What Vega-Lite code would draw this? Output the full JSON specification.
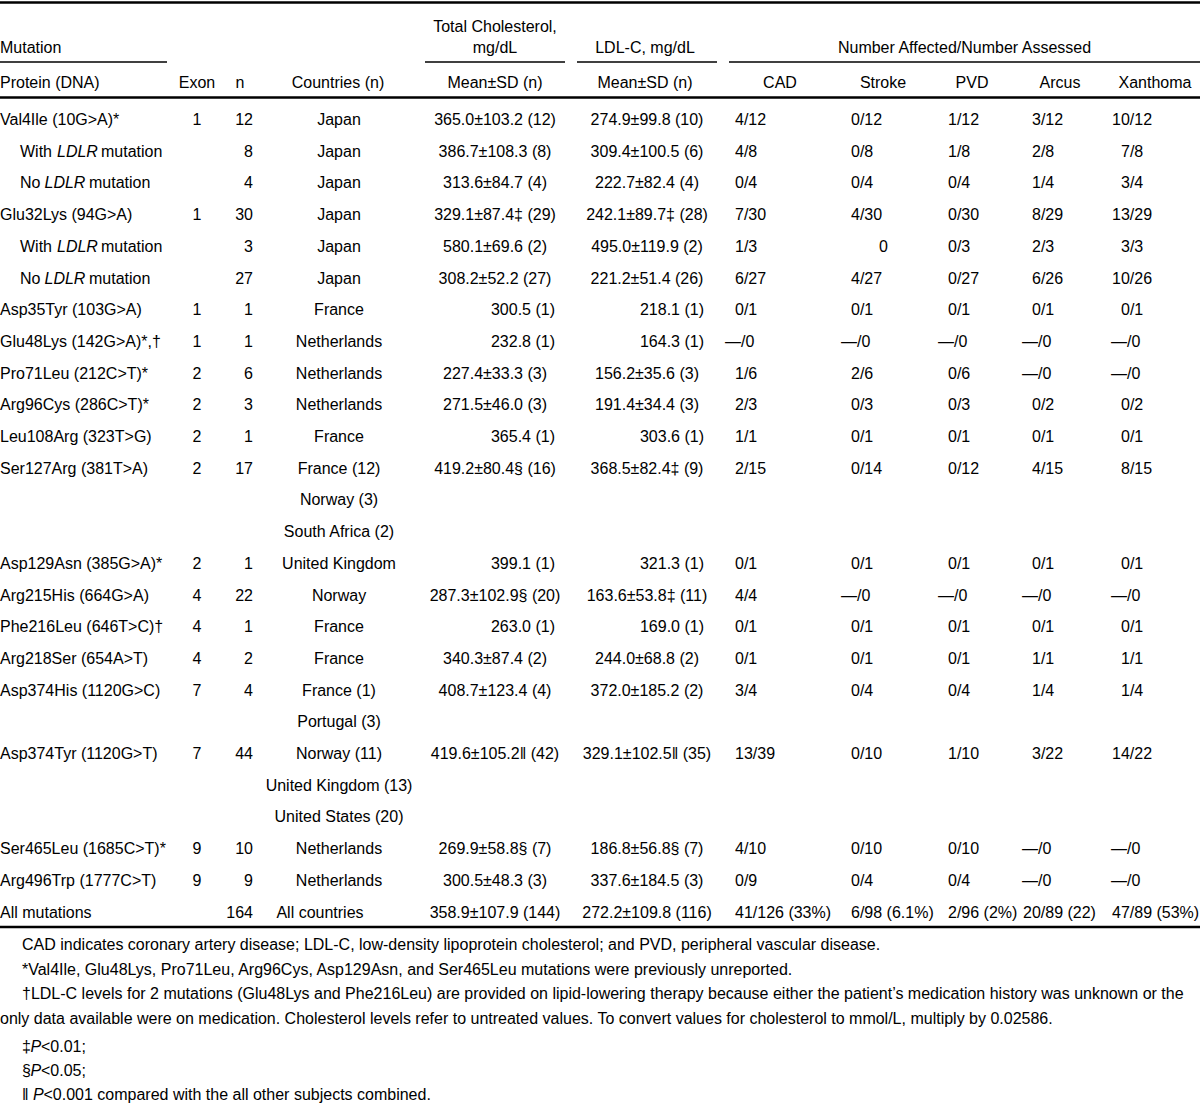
{
  "$schema": "https://vega.github.io/schema/vega-lite/v6.json",
  "width": 1200,
  "height": 1104,
  "padding": 0,
  "autosize": {"type": "none"},
  "background": "white",
  "config": {
    "view": {"stroke": null},
    "text": {"font": "Liberation Sans, Arial, Helvetica, sans-serif", "fontSize": 16, "baseline": "alphabetic", "fill": "#000"}
  },
  "datasets": {
    "head": [
      {"r": -2, "c": 0, "t": "Mutation"},
      {"r": -1, "c": 0, "t": "Protein (DNA)"},
      {"r": -3, "c": 4, "t": "Total Cholesterol,"},
      {"r": -2, "c": 4, "t": "mg/dL"},
      {"r": -2, "c": 5, "t": "LDL-C, mg/dL"},
      {"r": -2, "c": 11, "t": "Number Affected/Number Assessed"},
      {"r": -1, "c": 1, "t": "Exon"},
      {"r": -1, "c": 2, "t": "n"},
      {"r": -1, "c": 3, "t": "Countries (n)"},
      {"r": -1, "c": 4, "t": "Mean±SD (n)"},
      {"r": -1, "c": 5, "t": "Mean±SD (n)"},
      {"r": -1, "c": 6, "t": "CAD"},
      {"r": -1, "c": 7, "t": "Stroke"},
      {"r": -1, "c": 8, "t": "PVD"},
      {"r": -1, "c": 9, "t": "Arcus"},
      {"r": -1, "c": 10, "t": "Xanthoma"}
    ],
    "sub": [
      {"r": 1, "pre": "With"},
      {"r": 2, "pre": "No"},
      {"r": 4, "pre": "With"},
      {"r": 5, "pre": "No"}
    ],
    "body": [
      {"r": 0, "c": 0, "t": "Val4Ile (10G>A)*"}, {"r": 0, "c": 1, "t": "1"}, {"r": 0, "c": 2, "t": "12"}, {"r": 0, "c": 3, "t": "Japan"}, {"r": 0, "c": 4, "t": "365.0±103.2 (12)"}, {"r": 0, "c": 5, "t": "274.9±99.8 (10)"}, {"r": 0, "c": 6, "t": "4/12"}, {"r": 0, "c": 7, "t": "0/12"}, {"r": 0, "c": 8, "t": "1/12"}, {"r": 0, "c": 9, "t": "3/12"}, {"r": 0, "c": 10, "t": "10/12"},
      {"r": 1, "c": 2, "t": "8"}, {"r": 1, "c": 3, "t": "Japan"}, {"r": 1, "c": 4, "t": "386.7±108.3 (8)"}, {"r": 1, "c": 5, "t": "309.4±100.5 (6)"}, {"r": 1, "c": 6, "t": "4/8"}, {"r": 1, "c": 7, "t": "0/8"}, {"r": 1, "c": 8, "t": "1/8"}, {"r": 1, "c": 9, "t": "2/8"}, {"r": 1, "c": 10, "t": "7/8"},
      {"r": 2, "c": 2, "t": "4"}, {"r": 2, "c": 3, "t": "Japan"}, {"r": 2, "c": 4, "t": "313.6±84.7 (4)"}, {"r": 2, "c": 5, "t": "222.7±82.4 (4)"}, {"r": 2, "c": 6, "t": "0/4"}, {"r": 2, "c": 7, "t": "0/4"}, {"r": 2, "c": 8, "t": "0/4"}, {"r": 2, "c": 9, "t": "1/4"}, {"r": 2, "c": 10, "t": "3/4"},
      {"r": 3, "c": 0, "t": "Glu32Lys (94G>A)"}, {"r": 3, "c": 1, "t": "1"}, {"r": 3, "c": 2, "t": "30"}, {"r": 3, "c": 3, "t": "Japan"}, {"r": 3, "c": 4, "t": "329.1±87.4‡ (29)"}, {"r": 3, "c": 5, "t": "242.1±89.7‡ (28)"}, {"r": 3, "c": 6, "t": "7/30"}, {"r": 3, "c": 7, "t": "4/30"}, {"r": 3, "c": 8, "t": "0/30"}, {"r": 3, "c": 9, "t": "8/29"}, {"r": 3, "c": 10, "t": "13/29"},
      {"r": 4, "c": 2, "t": "3"}, {"r": 4, "c": 3, "t": "Japan"}, {"r": 4, "c": 4, "t": "580.1±69.6 (2)"}, {"r": 4, "c": 5, "t": "495.0±119.9 (2)"}, {"r": 4, "c": 6, "t": "1/3"}, {"r": 4, "c": 7, "t": "0"}, {"r": 4, "c": 8, "t": "0/3"}, {"r": 4, "c": 9, "t": "2/3"}, {"r": 4, "c": 10, "t": "3/3"},
      {"r": 5, "c": 2, "t": "27"}, {"r": 5, "c": 3, "t": "Japan"}, {"r": 5, "c": 4, "t": "308.2±52.2 (27)"}, {"r": 5, "c": 5, "t": "221.2±51.4 (26)"}, {"r": 5, "c": 6, "t": "6/27"}, {"r": 5, "c": 7, "t": "4/27"}, {"r": 5, "c": 8, "t": "0/27"}, {"r": 5, "c": 9, "t": "6/26"}, {"r": 5, "c": 10, "t": "10/26"},
      {"r": 6, "c": 0, "t": "Asp35Tyr (103G>A)"}, {"r": 6, "c": 1, "t": "1"}, {"r": 6, "c": 2, "t": "1"}, {"r": 6, "c": 3, "t": "France"}, {"r": 6, "c": 4, "t": "300.5 (1)"}, {"r": 6, "c": 5, "t": "218.1 (1)"}, {"r": 6, "c": 6, "t": "0/1"}, {"r": 6, "c": 7, "t": "0/1"}, {"r": 6, "c": 8, "t": "0/1"}, {"r": 6, "c": 9, "t": "0/1"}, {"r": 6, "c": 10, "t": "0/1"},
      {"r": 7, "c": 0, "t": "Glu48Lys (142G>A)*,†"}, {"r": 7, "c": 1, "t": "1"}, {"r": 7, "c": 2, "t": "1"}, {"r": 7, "c": 3, "t": "Netherlands"}, {"r": 7, "c": 4, "t": "232.8 (1)"}, {"r": 7, "c": 5, "t": "164.3 (1)"}, {"r": 7, "c": 6, "t": "—/0"}, {"r": 7, "c": 7, "t": "—/0"}, {"r": 7, "c": 8, "t": "—/0"}, {"r": 7, "c": 9, "t": "—/0"}, {"r": 7, "c": 10, "t": "—/0"},
      {"r": 8, "c": 0, "t": "Pro71Leu (212C>T)*"}, {"r": 8, "c": 1, "t": "2"}, {"r": 8, "c": 2, "t": "6"}, {"r": 8, "c": 3, "t": "Netherlands"}, {"r": 8, "c": 4, "t": "227.4±33.3 (3)"}, {"r": 8, "c": 5, "t": "156.2±35.6 (3)"}, {"r": 8, "c": 6, "t": "1/6"}, {"r": 8, "c": 7, "t": "2/6"}, {"r": 8, "c": 8, "t": "0/6"}, {"r": 8, "c": 9, "t": "—/0"}, {"r": 8, "c": 10, "t": "—/0"},
      {"r": 9, "c": 0, "t": "Arg96Cys (286C>T)*"}, {"r": 9, "c": 1, "t": "2"}, {"r": 9, "c": 2, "t": "3"}, {"r": 9, "c": 3, "t": "Netherlands"}, {"r": 9, "c": 4, "t": "271.5±46.0 (3)"}, {"r": 9, "c": 5, "t": "191.4±34.4 (3)"}, {"r": 9, "c": 6, "t": "2/3"}, {"r": 9, "c": 7, "t": "0/3"}, {"r": 9, "c": 8, "t": "0/3"}, {"r": 9, "c": 9, "t": "0/2"}, {"r": 9, "c": 10, "t": "0/2"},
      {"r": 10, "c": 0, "t": "Leu108Arg (323T>G)"}, {"r": 10, "c": 1, "t": "2"}, {"r": 10, "c": 2, "t": "1"}, {"r": 10, "c": 3, "t": "France"}, {"r": 10, "c": 4, "t": "365.4 (1)"}, {"r": 10, "c": 5, "t": "303.6 (1)"}, {"r": 10, "c": 6, "t": "1/1"}, {"r": 10, "c": 7, "t": "0/1"}, {"r": 10, "c": 8, "t": "0/1"}, {"r": 10, "c": 9, "t": "0/1"}, {"r": 10, "c": 10, "t": "0/1"},
      {"r": 11, "c": 0, "t": "Ser127Arg (381T>A)"}, {"r": 11, "c": 1, "t": "2"}, {"r": 11, "c": 2, "t": "17"}, {"r": 11, "c": 3, "t": "France (12)"}, {"r": 11, "c": 4, "t": "419.2±80.4§ (16)"}, {"r": 11, "c": 5, "t": "368.5±82.4‡ (9)"}, {"r": 11, "c": 6, "t": "2/15"}, {"r": 11, "c": 7, "t": "0/14"}, {"r": 11, "c": 8, "t": "0/12"}, {"r": 11, "c": 9, "t": "4/15"}, {"r": 11, "c": 10, "t": "8/15"},
      {"r": 12, "c": 3, "t": "Norway (3)"},
      {"r": 13, "c": 3, "t": "South Africa (2)"},
      {"r": 14, "c": 0, "t": "Asp129Asn (385G>A)*"}, {"r": 14, "c": 1, "t": "2"}, {"r": 14, "c": 2, "t": "1"}, {"r": 14, "c": 3, "t": "United Kingdom"}, {"r": 14, "c": 4, "t": "399.1 (1)"}, {"r": 14, "c": 5, "t": "321.3 (1)"}, {"r": 14, "c": 6, "t": "0/1"}, {"r": 14, "c": 7, "t": "0/1"}, {"r": 14, "c": 8, "t": "0/1"}, {"r": 14, "c": 9, "t": "0/1"}, {"r": 14, "c": 10, "t": "0/1"},
      {"r": 15, "c": 0, "t": "Arg215His (664G>A)"}, {"r": 15, "c": 1, "t": "4"}, {"r": 15, "c": 2, "t": "22"}, {"r": 15, "c": 3, "t": "Norway"}, {"r": 15, "c": 4, "t": "287.3±102.9§ (20)"}, {"r": 15, "c": 5, "t": "163.6±53.8‡ (11)"}, {"r": 15, "c": 6, "t": "4/4"}, {"r": 15, "c": 7, "t": "—/0"}, {"r": 15, "c": 8, "t": "—/0"}, {"r": 15, "c": 9, "t": "—/0"}, {"r": 15, "c": 10, "t": "—/0"},
      {"r": 16, "c": 0, "t": "Phe216Leu (646T>C)†"}, {"r": 16, "c": 1, "t": "4"}, {"r": 16, "c": 2, "t": "1"}, {"r": 16, "c": 3, "t": "France"}, {"r": 16, "c": 4, "t": "263.0 (1)"}, {"r": 16, "c": 5, "t": "169.0 (1)"}, {"r": 16, "c": 6, "t": "0/1"}, {"r": 16, "c": 7, "t": "0/1"}, {"r": 16, "c": 8, "t": "0/1"}, {"r": 16, "c": 9, "t": "0/1"}, {"r": 16, "c": 10, "t": "0/1"},
      {"r": 17, "c": 0, "t": "Arg218Ser (654A>T)"}, {"r": 17, "c": 1, "t": "4"}, {"r": 17, "c": 2, "t": "2"}, {"r": 17, "c": 3, "t": "France"}, {"r": 17, "c": 4, "t": "340.3±87.4 (2)"}, {"r": 17, "c": 5, "t": "244.0±68.8 (2)"}, {"r": 17, "c": 6, "t": "0/1"}, {"r": 17, "c": 7, "t": "0/1"}, {"r": 17, "c": 8, "t": "0/1"}, {"r": 17, "c": 9, "t": "1/1"}, {"r": 17, "c": 10, "t": "1/1"},
      {"r": 18, "c": 0, "t": "Asp374His (1120G>C)"}, {"r": 18, "c": 1, "t": "7"}, {"r": 18, "c": 2, "t": "4"}, {"r": 18, "c": 3, "t": "France (1)"}, {"r": 18, "c": 4, "t": "408.7±123.4 (4)"}, {"r": 18, "c": 5, "t": "372.0±185.2 (2)"}, {"r": 18, "c": 6, "t": "3/4"}, {"r": 18, "c": 7, "t": "0/4"}, {"r": 18, "c": 8, "t": "0/4"}, {"r": 18, "c": 9, "t": "1/4"}, {"r": 18, "c": 10, "t": "1/4"},
      {"r": 19, "c": 3, "t": "Portugal (3)"},
      {"r": 20, "c": 0, "t": "Asp374Tyr (1120G>T)"}, {"r": 20, "c": 1, "t": "7"}, {"r": 20, "c": 2, "t": "44"}, {"r": 20, "c": 3, "t": "Norway (11)"}, {"r": 20, "c": 4, "t": "419.6±105.2‖ (42)"}, {"r": 20, "c": 5, "t": "329.1±102.5‖ (35)"}, {"r": 20, "c": 6, "t": "13/39"}, {"r": 20, "c": 7, "t": "0/10"}, {"r": 20, "c": 8, "t": "1/10"}, {"r": 20, "c": 9, "t": "3/22"}, {"r": 20, "c": 10, "t": "14/22"},
      {"r": 21, "c": 3, "t": "United Kingdom (13)"},
      {"r": 22, "c": 3, "t": "United States (20)"},
      {"r": 23, "c": 0, "t": "Ser465Leu (1685C>T)*"}, {"r": 23, "c": 1, "t": "9"}, {"r": 23, "c": 2, "t": "10"}, {"r": 23, "c": 3, "t": "Netherlands"}, {"r": 23, "c": 4, "t": "269.9±58.8§ (7)"}, {"r": 23, "c": 5, "t": "186.8±56.8§ (7)"}, {"r": 23, "c": 6, "t": "4/10"}, {"r": 23, "c": 7, "t": "0/10"}, {"r": 23, "c": 8, "t": "0/10"}, {"r": 23, "c": 9, "t": "—/0"}, {"r": 23, "c": 10, "t": "—/0"},
      {"r": 24, "c": 0, "t": "Arg496Trp (1777C>T)"}, {"r": 24, "c": 1, "t": "9"}, {"r": 24, "c": 2, "t": "9"}, {"r": 24, "c": 3, "t": "Netherlands"}, {"r": 24, "c": 4, "t": "300.5±48.3 (3)"}, {"r": 24, "c": 5, "t": "337.6±184.5 (3)"}, {"r": 24, "c": 6, "t": "0/9"}, {"r": 24, "c": 7, "t": "0/4"}, {"r": 24, "c": 8, "t": "0/4"}, {"r": 24, "c": 9, "t": "—/0"}, {"r": 24, "c": 10, "t": "—/0"},
      {"r": 25, "c": 0, "t": "All mutations"}, {"r": 25, "c": 2, "t": "164"}, {"r": 25, "c": 3, "t": "All countries"}, {"r": 25, "c": 4, "t": "358.9±107.9 (144)"}, {"r": 25, "c": 5, "t": "272.2±109.8 (116)"}, {"r": 25, "c": 6, "t": "41/126 (33%)"}, {"r": 25, "c": 7, "t": "6/98 (6.1%)"}, {"r": 25, "c": 8, "t": "2/96 (2%)"}, {"r": 25, "c": 9, "t": "20/89 (22)"}, {"r": 25, "c": 10, "t": "47/89 (53%)"}
    ],
    "notes": [
      {"r": 26, "t": "CAD indicates coronary artery disease; LDL-C, low-density lipoprotein cholesterol; and PVD, peripheral vascular disease."},
      {"r": 27, "t": "*Val4Ile, Glu48Lys, Pro71Leu, Arg96Cys, Asp129Asn, and Ser465Leu mutations were previously unreported."},
      {"r": 28, "t": "†LDL-C levels for 2 mutations (Glu48Lys and Phe216Leu) are provided on lipid-lowering therapy because either the patient’s medication history was unknown or the"},
      {"r": 29, "t": "only data available were on medication. Cholesterol levels refer to untreated values. To convert values for cholesterol to mmol/L, multiply by 0.02586."}
    ],
    "pnotes": [
      {"r": 30, "s": "‡", "rest": "<0.01;"},
      {"r": 31, "s": "§", "rest": "<0.05;"},
      {"r": 32, "s": "‖", "rest": "<0.001 compared with the all other subjects combined."}
    ],
    "rules": [
      {"lvl": 0, "a": 0, "b": 7},
      {"lvl": 1, "a": 0, "b": 1},
      {"lvl": 1, "a": 2, "b": 3},
      {"lvl": 1, "a": 4, "b": 5},
      {"lvl": 1, "a": 6, "b": 7},
      {"lvl": 2, "a": 0, "b": 7},
      {"lvl": 3, "a": 0, "b": 7}
    ]
  },
  "resolve": {"scale": {"x": "independent", "y": "independent"}},
  "layer": [
    {
      "data": {"name": "rules"},
      "mark": {"type": "rule", "color": "#000"},
      "encoding": {
        "x": {"field": "a", "type": "quantitative", "axis": null, "scale": {"domain": [0, 1, 2, 3, 4, 5, 6, 7], "range": [0, 167, 425, 565, 577, 717, 729, 1200], "zero": false, "nice": false}},
        "x2": {"field": "b"},
        "y": {"field": "lvl", "type": "quantitative", "axis": null, "scale": {"domain": [0, 1, 2, 3], "range": [2.5, 62, 97.5, 927], "zero": false, "nice": false}},
        "strokeWidth": {"condition": {"test": "datum.lvl == 1", "value": 1.5}, "value": 2.5}
      }
    },
    {
      "data": {"name": "head"},
      "transform": [{"filter": "datum.c == 0"}],
      "mark": {"type": "text", "align": "left"},
      "encoding": {
        "x": {"field": "c", "type": "quantitative", "axis": null, "scale": {"domain": [0, 1], "range": [0, 1], "zero": false, "nice": false}},
        "y": {"field": "r", "type": "quantitative", "axis": null, "scale": {"domain": [-3, -2, -1, 0, 25, 26, 29, 30, 32], "range": [32, 53, 88, 125, 917.5, 950, 1024, 1052, 1100], "zero": false, "nice": false}},
        "text": {"field": "t"}
      }
    },
    {
      "data": {"name": "head"},
      "transform": [{"filter": "datum.c > 0"}],
      "mark": {"type": "text", "align": "center"},
      "encoding": {
        "x": {"field": "c", "type": "quantitative", "axis": null, "scale": {"domain": [1, 2, 3, 4, 5, 6, 7, 8, 9, 10, 11], "range": [197, 240, 338, 495, 645, 780, 883, 972, 1060, 1155, 964.5], "zero": false, "nice": false}},
        "y": {"field": "r", "type": "quantitative", "axis": null, "scale": {"domain": [-3, -2, -1, 0, 25, 26, 29, 30, 32], "range": [32, 53, 88, 125, 917.5, 950, 1024, 1052, 1100], "zero": false, "nice": false}},
        "text": {"field": "t"}
      }
    },
    {
      "data": {"name": "body"},
      "transform": [{"filter": "datum.c == 0"}],
      "mark": {"type": "text", "align": "left"},
      "encoding": {
        "x": {"field": "c", "type": "quantitative", "axis": null, "scale": {"domain": [0, 1], "range": [0, 1], "zero": false, "nice": false}},
        "y": {"field": "r", "type": "quantitative", "axis": null, "scale": {"domain": [-3, -2, -1, 0, 25, 26, 29, 30, 32], "range": [32, 53, 88, 125, 917.5, 950, 1024, 1052, 1100], "zero": false, "nice": false}},
        "text": {"field": "t"}
      }
    },
    {
      "data": {"name": "sub"},
      "mark": {"type": "text", "align": "left"},
      "encoding": {
        "x": {"field": "pre", "type": "nominal", "axis": null, "scale": {"type": "point", "domain": ["No", "With"], "range": [20, 20], "padding": 0}},
        "y": {"field": "r", "type": "quantitative", "axis": null, "scale": {"domain": [-3, -2, -1, 0, 25, 26, 29, 30, 32], "range": [32, 53, 88, 125, 917.5, 950, 1024, 1052, 1100], "zero": false, "nice": false}},
        "text": {"field": "pre"}
      }
    },
    {
      "data": {"name": "sub"},
      "mark": {"type": "text", "align": "left", "fontStyle": "italic", "text": "LDLR"},
      "encoding": {
        "x": {"field": "pre", "type": "nominal", "axis": null, "scale": {"type": "point", "domain": ["No", "With"], "range": [44.5, 57], "padding": 0}},
        "y": {"field": "r", "type": "quantitative", "axis": null, "scale": {"domain": [-3, -2, -1, 0, 25, 26, 29, 30, 32], "range": [32, 53, 88, 125, 917.5, 950, 1024, 1052, 1100], "zero": false, "nice": false}}
      }
    },
    {
      "data": {"name": "sub"},
      "mark": {"type": "text", "align": "left", "text": "mutation"},
      "encoding": {
        "x": {"field": "pre", "type": "nominal", "axis": null, "scale": {"type": "point", "domain": ["No", "With"], "range": [89, 101], "padding": 0}},
        "y": {"field": "r", "type": "quantitative", "axis": null, "scale": {"domain": [-3, -2, -1, 0, 25, 26, 29, 30, 32], "range": [32, 53, 88, 125, 917.5, 950, 1024, 1052, 1100], "zero": false, "nice": false}}
      }
    },
    {
      "data": {"name": "body"},
      "transform": [{"filter": "(datum.c == 1 || datum.c == 3 || ((datum.c == 4 || datum.c == 5) && indexof(datum.t, '±') >= 0)) && datum.t != 'All countries'"}],
      "mark": {"type": "text", "align": "center"},
      "encoding": {
        "x": {"field": "c", "type": "quantitative", "axis": null, "scale": {"domain": [1, 3, 4, 5], "range": [197, 339, 495, 647], "zero": false, "nice": false}},
        "y": {"field": "r", "type": "quantitative", "axis": null, "scale": {"domain": [-3, -2, -1, 0, 25, 26, 29, 30, 32], "range": [32, 53, 88, 125, 917.5, 950, 1024, 1052, 1100], "zero": false, "nice": false}},
        "text": {"field": "t"}
      }
    },
    {
      "data": {"name": "body"},
      "transform": [{"filter": "datum.t == 'All countries'"}],
      "mark": {"type": "text", "align": "center", "dx": -19},
      "encoding": {
        "x": {"field": "c", "type": "quantitative", "axis": null, "scale": {"domain": [1, 3, 4, 5], "range": [197, 339, 495, 647], "zero": false, "nice": false}},
        "y": {"field": "r", "type": "quantitative", "axis": null, "scale": {"domain": [-3, -2, -1, 0, 25, 26, 29, 30, 32], "range": [32, 53, 88, 125, 917.5, 950, 1024, 1052, 1100], "zero": false, "nice": false}},
        "text": {"field": "t"}
      }
    },
    {
      "data": {"name": "body"},
      "transform": [{"filter": "datum.c == 2 || ((datum.c == 4 || datum.c == 5) && indexof(datum.t, '±') < 0)"}],
      "mark": {"type": "text", "align": "right"},
      "encoding": {
        "x": {"field": "c", "type": "quantitative", "axis": null, "scale": {"domain": [2, 4, 5], "range": [253, 555, 704], "zero": false, "nice": false}},
        "y": {"field": "r", "type": "quantitative", "axis": null, "scale": {"domain": [-3, -2, -1, 0, 25, 26, 29, 30, 32], "range": [32, 53, 88, 125, 917.5, 950, 1024, 1052, 1100], "zero": false, "nice": false}},
        "text": {"field": "t"}
      }
    },
    {
      "data": {"name": "body"},
      "transform": [{"filter": "datum.c >= 6 && indexof(datum.t, '—') != 0 && !(datum.c >= 9 && indexof(datum.t, '/') == 2) && datum.t != '0'"}],
      "mark": {"type": "text", "align": "left"},
      "encoding": {
        "x": {"field": "c", "type": "quantitative", "axis": null, "scale": {"domain": [6, 7, 8, 9, 10], "range": [735, 851, 948, 1032, 1121], "zero": false, "nice": false}},
        "y": {"field": "r", "type": "quantitative", "axis": null, "scale": {"domain": [-3, -2, -1, 0, 25, 26, 29, 30, 32], "range": [32, 53, 88, 125, 917.5, 950, 1024, 1052, 1100], "zero": false, "nice": false}},
        "text": {"field": "t"}
      }
    },
    {
      "data": {"name": "body"},
      "transform": [{"filter": "datum.c >= 6 && indexof(datum.t, '—') == 0"}],
      "mark": {"type": "text", "align": "left", "dx": -10},
      "encoding": {
        "x": {"field": "c", "type": "quantitative", "axis": null, "scale": {"domain": [6, 7, 8, 9, 10], "range": [735, 851, 948, 1032, 1121], "zero": false, "nice": false}},
        "y": {"field": "r", "type": "quantitative", "axis": null, "scale": {"domain": [-3, -2, -1, 0, 25, 26, 29, 30, 32], "range": [32, 53, 88, 125, 917.5, 950, 1024, 1052, 1100], "zero": false, "nice": false}},
        "text": {"field": "t"}
      }
    },
    {
      "data": {"name": "body"},
      "transform": [{"filter": "datum.c >= 9 && indexof(datum.t, '/') == 2"}],
      "mark": {"type": "text", "align": "left", "dx": -9},
      "encoding": {
        "x": {"field": "c", "type": "quantitative", "axis": null, "scale": {"domain": [6, 7, 8, 9, 10], "range": [735, 851, 948, 1032, 1121], "zero": false, "nice": false}},
        "y": {"field": "r", "type": "quantitative", "axis": null, "scale": {"domain": [-3, -2, -1, 0, 25, 26, 29, 30, 32], "range": [32, 53, 88, 125, 917.5, 950, 1024, 1052, 1100], "zero": false, "nice": false}},
        "text": {"field": "t"}
      }
    },
    {
      "data": {"name": "body"},
      "transform": [{"filter": "datum.c >= 6 && datum.t == '0'"}],
      "mark": {"type": "text", "align": "left", "dx": 28},
      "encoding": {
        "x": {"field": "c", "type": "quantitative", "axis": null, "scale": {"domain": [6, 7, 8, 9, 10], "range": [735, 851, 948, 1032, 1121], "zero": false, "nice": false}},
        "y": {"field": "r", "type": "quantitative", "axis": null, "scale": {"domain": [-3, -2, -1, 0, 25, 26, 29, 30, 32], "range": [32, 53, 88, 125, 917.5, 950, 1024, 1052, 1100], "zero": false, "nice": false}},
        "text": {"field": "t"}
      }
    },
    {
      "data": {"name": "notes"},
      "transform": [{"filter": "datum.r != 29"}],
      "mark": {"type": "text", "align": "left", "fontSize": 16, "dx": 22},
      "encoding": {
        "x": {"datum": 0, "type": "quantitative", "axis": null, "scale": {"domain": [0, 1], "range": [0, 1], "zero": false, "nice": false}},
        "y": {"field": "r", "type": "quantitative", "axis": null, "scale": {"domain": [-3, -2, -1, 0, 25, 26, 29, 30, 32], "range": [32, 53, 88, 125, 917.5, 950, 1024, 1052, 1100], "zero": false, "nice": false}},
        "text": {"field": "t"}
      }
    },
    {
      "data": {"name": "notes"},
      "transform": [{"filter": "datum.r == 29"}],
      "mark": {"type": "text", "align": "left", "fontSize": 16},
      "encoding": {
        "x": {"datum": 0, "type": "quantitative", "axis": null, "scale": {"domain": [0, 1], "range": [0, 1], "zero": false, "nice": false}},
        "y": {"field": "r", "type": "quantitative", "axis": null, "scale": {"domain": [-3, -2, -1, 0, 25, 26, 29, 30, 32], "range": [32, 53, 88, 125, 917.5, 950, 1024, 1052, 1100], "zero": false, "nice": false}},
        "text": {"field": "t"}
      }
    },
    {
      "data": {"name": "pnotes"},
      "mark": {"type": "text", "align": "left", "fontSize": 16, "dx": 22},
      "encoding": {
        "x": {"datum": 0, "type": "quantitative", "axis": null, "scale": {"domain": [0, 1], "range": [0, 1], "zero": false, "nice": false}},
        "y": {"field": "r", "type": "quantitative", "axis": null, "scale": {"domain": [-3, -2, -1, 0, 25, 26, 29, 30, 32], "range": [32, 53, 88, 125, 917.5, 950, 1024, 1052, 1100], "zero": false, "nice": false}},
        "text": {"field": "s"}
      }
    },
    {
      "data": {"name": "pnotes"},
      "mark": {"type": "text", "align": "left", "fontSize": 16, "fontStyle": "italic", "text": "P"},
      "encoding": {
        "x": {"field": "r", "type": "quantitative", "axis": null, "scale": {"domain": [30, 31, 32], "range": [30.5, 30.5, 33], "zero": false, "nice": false}},
        "y": {"field": "r", "type": "quantitative", "axis": null, "scale": {"domain": [-3, -2, -1, 0, 25, 26, 29, 30, 32], "range": [32, 53, 88, 125, 917.5, 950, 1024, 1052, 1100], "zero": false, "nice": false}}
      }
    },
    {
      "data": {"name": "pnotes"},
      "mark": {"type": "text", "align": "left", "fontSize": 16},
      "encoding": {
        "x": {"field": "r", "type": "quantitative", "axis": null, "scale": {"domain": [30, 31, 32], "range": [41, 41, 43.5], "zero": false, "nice": false}},
        "y": {"field": "r", "type": "quantitative", "axis": null, "scale": {"domain": [-3, -2, -1, 0, 25, 26, 29, 30, 32], "range": [32, 53, 88, 125, 917.5, 950, 1024, 1052, 1100], "zero": false, "nice": false}},
        "text": {"field": "rest"}
      }
    }
  ]
}
